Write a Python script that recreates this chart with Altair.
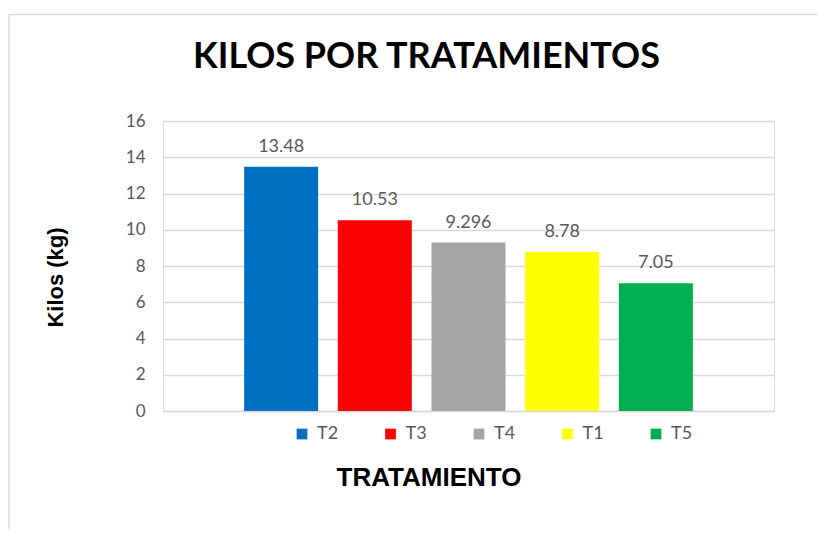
import altair as alt
import pandas as pd

tratamientos = ["T2", "T3", "T4", "T1", "T5"]
kilos = [13.48, 10.53, 9.296, 8.78, 7.05]
etiquetas = ["13.48", "10.53", "9.296", "8.78", "7.05"]
colores = ["#0070C0", "#FF0000", "#A5A5A5", "#FFFF00", "#00B050"]
y_ticks = [0, 2, 4, 6, 8, 10, 12, 14, 16]

df = pd.DataFrame({"trat": tratamientos, "kilos": kilos, "lab": etiquetas})

W, H = 611, 290

y_axis = alt.Axis(
    title="Kilos (kg)",
    values=y_ticks,
    tickCount=20,
    labelOverlap=False,
    domain=False,
    ticks=False,
    grid=True,
    gridColor="#d9d9d9",
    gridWidth=1.3,
    labelFont="Lato",
    labelFontSize=17,
    labelColor="#595959",
    labelPadding=18,
    titleFont="Liberation Sans",
    titleFontSize=22,
    titleFontWeight="bold",
    titleColor="#000000",
    titleX=-101,
    titleY=156,
    titleAngle=-90,
    titleAlign="center",
    titleBaseline="alphabetic",
)

x_axis = alt.Axis(
    title="TRATAMIENTO",
    labels=False,
    ticks=False,
    domain=True,
    domainColor="#d9d9d9",
    domainWidth=1.3,
    titleFont="Liberation Sans",
    titleFontSize=26,
    titleFontWeight="bold",
    titleColor="#000000",
    titleX=265.5,
    titleY=74,
    titleAlign="center",
    titleBaseline="alphabetic",
)

x_scale = alt.Scale(paddingInner=0.21, paddingOuter=0.866)
y_scale = alt.Scale(domain=[0, 16], nice=False)

bars = alt.Chart(df).mark_bar().encode(
    x=alt.X("trat:N", sort=tratamientos, scale=x_scale, axis=x_axis),
    y=alt.Y("kilos:Q", scale=y_scale, axis=y_axis),
    color=alt.Color(
        "trat:N",
        sort=tratamientos,
        scale=alt.Scale(domain=tratamientos, range=colores),
        legend=alt.Legend(
            title=None,
            orient="none",
            direction="horizontal",
            legendX=130,
            legendY=H + 14,
            symbolType="square",
            symbolSize=115,
            symbolStrokeWidth=0,
            labelFont="Lato",
            labelFontSize=18,
            labelColor="#595959",
            labelOffset=6,
            columnPadding=42.5,
            gridAlign="all",
            padding=0,
        ),
    ),
)

labels = alt.Chart(df).mark_text(
    font="Lato", fontSize=18, color="#595959", baseline="alphabetic", dy=-15
).encode(
    x=alt.X("trat:N", sort=tratamientos, scale=x_scale, axis=x_axis),
    y=alt.Y("kilos:Q", scale=y_scale, axis=y_axis),
    text="lab:N",
)

frame = alt.Chart(alt.Data(values=[{"a": 1}])).mark_rect(
    fillOpacity=0, stroke="#d9d9d9", strokeWidth=1.5
).encode(
    x=alt.value(-154), x2=alt.value(900), y=alt.value(-106.5), y2=alt.value(700)
)

chart = (
    alt.layer(frame, bars, labels)
    .properties(
        width=W,
        height=H,
        autosize=alt.AutoSizeParams(type="none"),
        padding={"left": 155, "top": 113, "right": 44, "bottom": 118},
        title=alt.Title(
            "KILOS POR TRATAMIENTOS",
            font="Lato",
            fontSize=36,
            fontWeight="bold",
            color="#000000",
            anchor="middle",
            baseline="alphabetic",
            dx=-42,
            offset=0,
            dy=90,
        ),
    )
    .configure_view(stroke=None)
    .configure(background="#ffffff")
)

chart.save("out.html", embed_options={"renderer": "svg", "actions": False})
